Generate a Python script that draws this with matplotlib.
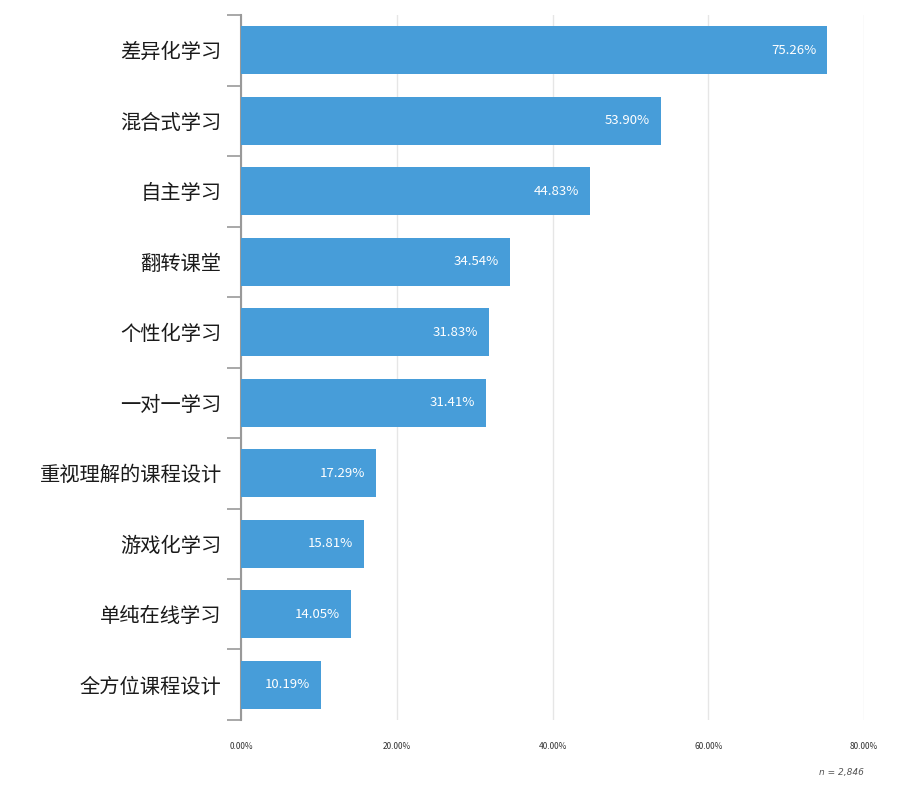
import numpy as np
import matplotlib.pyplot as plt
from matplotlib.ticker import FixedLocator, FuncFormatter

plt.rcParams['font.family'] = ['Noto Sans CJK SC', 'DejaVu Sans']

categories = ["差异化学习", "混合式学习", "自主学习", "翻转课堂", "个性化学习",
              "一对一学习", "重视理解的课程设计", "游戏化学习", "单纯在线学习", "全方位课程设计"]
values = [75.26, 53.90, 44.83, 34.54, 31.83, 31.41, 17.29, 15.81, 14.05, 10.19]
xticks = [0, 20, 40, 60, 80]

fig = plt.figure(figsize=(9, 7.96), dpi=100)
ax = fig.add_axes([0.268, 0.0955, 0.692, 0.8855])

y = np.arange(len(categories))
bars = ax.barh(y, values, height=0.68, color="#479dd9", zorder=3)
ax.set_ylim(len(categories) - 0.5, -0.5)
ax.set_xlim(0, 80)

for b, v in zip(bars, values):
    ax.text(v - 1.4, b.get_y() + b.get_height() / 2, f"{v:.2f}%",
            color="white", ha="right", va="center", fontsize=9.5, zorder=4)

ax.set_yticks(y)
ax.set_yticklabels(categories, fontsize=14.6, color="#1a1a1a", fontweight="medium")
ax.tick_params(axis="y", which="major", length=0, pad=14)
ax.yaxis.set_minor_locator(FixedLocator(np.arange(-0.5, len(categories), 1)))
ax.tick_params(axis="y", which="minor", length=10, color="#999999", width=1.2)

ax.set_xticks(xticks)
ax.xaxis.set_major_formatter(FuncFormatter(lambda v, p: f"{v:.2f}%"))
ax.tick_params(axis="x", length=0, labelsize=6, pad=16, labelcolor="#333333")
ax.grid(axis="x", color="#e6e6e6", linewidth=1, zorder=0)

for s in ["top", "right", "bottom"]:
    ax.spines[s].set_visible(False)
ax.spines["left"].set_color("#999999")
ax.spines["left"].set_linewidth(1.5)

fig.text(0.96, 0.03, "n = 2,846", ha="right", va="center", fontsize=6.5,
         style="italic", color="#555555", family="DejaVu Sans")

fig.savefig("out.png", dpi=100)
